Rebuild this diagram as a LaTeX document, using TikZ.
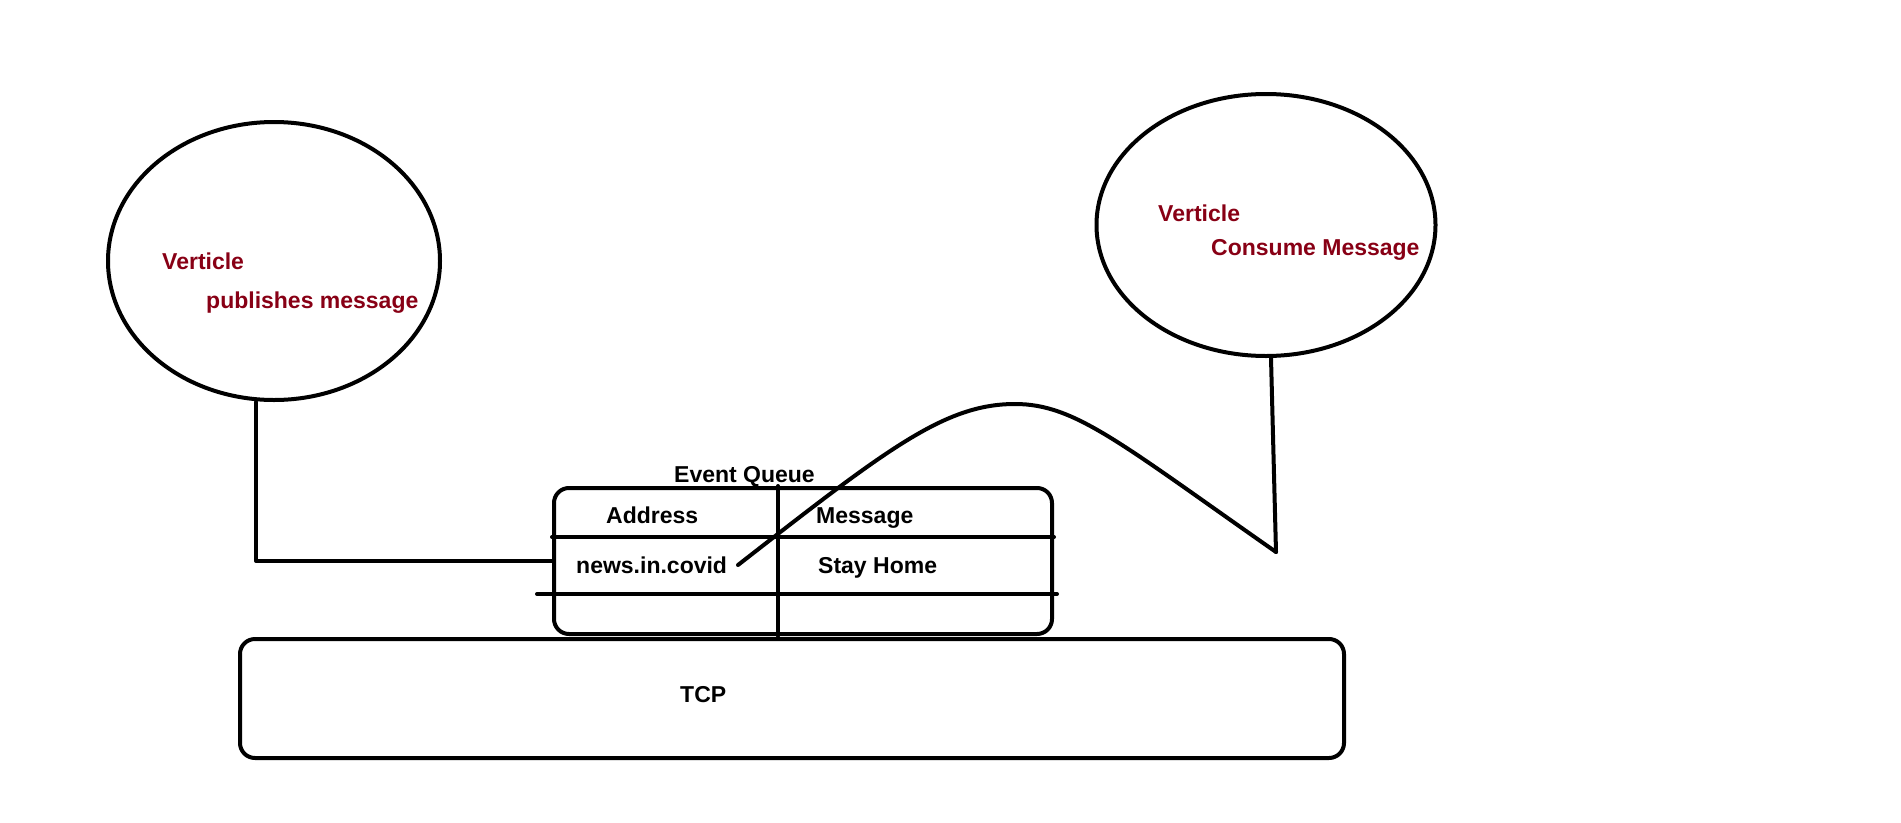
\documentclass[tikz,border=0pt]{standalone}
\usepackage{fontspec}
\setmainfont{Liberation Sans}
\usepackage{tikz}
\usetikzlibrary{shapes.geometric}
\definecolor{vertred}{RGB}{136,0,21}
\tikzset{
  paint/.style={line width=4pt, line cap=round, line join=round},
  vert/.style={draw, ellipse, paint, inner sep=0pt},
  slab/.style={draw, paint, rounded corners=15pt, inner sep=0pt},
  lbl/.style={font=\fontsize{23}{27}\selectfont\bfseries, inner sep=0pt, anchor=base west},
  redlbl/.style={lbl, text=vertred}
}
\begin{document}
\begin{tikzpicture}[x=1pt,y=-1pt]
\useasboundingbox (0,0) rectangle (1901,822);
% the two verticles
\node[vert, minimum width=332pt, minimum height=278pt] (pub) at (274,261) {};
\node[vert, minimum width=339pt, minimum height=262pt] (con) at (1266,225) {};
\node[redlbl] (pubname) at (162,269) {Verticle};
\node[redlbl] (pubtxt) at (206,308) {publishes message};
\node[redlbl] (conname) at (1158,221) {Verticle};
\node[redlbl] (contxt) at (1211,255) {Consume Message};
% event queue and tcp
\node[slab, minimum width=498pt, minimum height=146pt] (queue) at (803,561) {};
\node[slab, minimum width=1104pt, minimum height=119pt] (tcp) at (792,698.5) {};
\coordinate (split) at (778,537);
\coordinate (rowa) at (537,594);
\coordinate (rowb) at (1057,594);
\draw[paint] (split |- queue.north) -- (split |- queue.south);
\draw[paint] (queue.west |- split) -- (queue.east |- split);
\draw[paint] (rowa) -- (rowb);
\node[lbl] (evq) at (674,482) {Event Queue};
\node[lbl] (addr) at (606,523) {Address};
\node[lbl] (msg) at (816,523) {Message};
\node[lbl] (covidtxt) at (576,573) {news.in.covid};
\node[lbl] (home) at (818,573) {Stay Home};
\node[lbl] (tcptxt) at (680,702) {TCP};
% connectors
\coordinate (covid) at (738,565);
\coordinate (peak) at (1015,404);
\coordinate (drop) at (1276,552);
\draw[paint] ([xshift=-18pt]pub.south) |- (queue.west);
\draw[paint] (covid) .. controls (888,448) and (945,404) .. (peak)
  .. controls (1075,404) and (1120,443) .. (drop);
\draw[paint] ([xshift=5pt]con.south) -- (drop);
%\draw[step=100,color=gray] (0,0) grid (1901,822);
\end{tikzpicture}
\end{document}
